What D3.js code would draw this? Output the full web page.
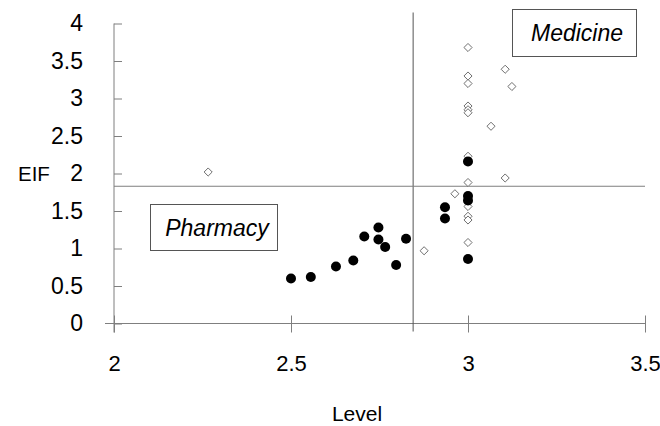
<!DOCTYPE html>
<html>
<head>
<meta charset="utf-8">
<script src="https://cdn.jsdelivr.net/npm/d3@7"></script>
<style>
  body { margin: 0; background: #fff; }
  svg { font-family: "Liberation Sans", Arial, sans-serif; }
</style>
</head>
<body>
<svg id="chart"></svg>
<script>
// data
var pharmacyLevel = [2.50, 2.556, 2.627, 2.676, 2.707, 2.747, 2.747, 2.766, 2.797, 2.825, 2.935, 2.935, 3.0, 3.0, 3.0, 3.0];
var pharmacyEIF   = [0.60, 0.62, 0.76, 0.84, 1.16, 1.28, 1.12, 1.02, 0.78, 1.13, 1.55, 1.40, 2.16, 1.70, 1.64, 0.86];

var medicineLevel = [3.0, 3.0, 3.0, 3.0, 3.0, 3.0, 3.0, 3.0, 3.0, 3.0, 3.0, 3.0, 3.105, 3.124, 3.065, 3.105, 2.963, 2.876, 2.266];
var medicineEIF   = [3.68, 3.30, 3.20, 2.90, 2.85, 2.81, 2.23, 1.88, 1.56, 1.43, 1.38, 1.08, 3.39, 3.16, 2.63, 1.94, 1.73, 0.97, 2.02];

var xTicks = [2, 2.5, 3, 3.5];
var yTicks = [0, 0.5, 1, 1.5, 2, 2.5, 3, 3.5, 4];

// dividing lines
var refLevel = 2.845;
var refEIF = 1.83;

var width = 660, height = 426;
var axisColor = "#7f7f7f";

var svg = d3.select("#chart")
  .attr("width", width)
  .attr("height", height);

var x = d3.scaleLinear().domain([2, 3.5]).range([114, 645]);
var y = d3.scaleLinear().domain([0, 4]).range([323.5, 23.5]);

// Y axis, ticks crossing the line
var yAxis = svg.append("g")
  .attr("transform", "translate(" + x(2) + ",0)")
  .call(d3.axisLeft(y).tickValues(yTicks).tickSize(8).tickSizeOuter(0).tickPadding(23)
    .tickFormat(d3.format("")));
yAxis.select(".domain").remove();
yAxis.selectAll(".tick line").attr("x2", 8).attr("stroke", axisColor);
yAxis.selectAll(".tick text")
  .style("font-size", "23px")
  .attr("fill", "#000");
yAxis.append("line")
  .attr("x1", 0).attr("x2", 0)
  .attr("y1", y(4)).attr("y2", y(0) + 9)
  .attr("stroke", axisColor);

// X axis
var xAxis = svg.append("g")
  .attr("transform", "translate(0," + y(0) + ")")
  .call(d3.axisBottom(x).tickValues(xTicks).tickSize(9).tickSizeOuter(0)
    .tickFormat(d3.format("")));
xAxis.select(".domain").remove();
xAxis.selectAll(".tick line").attr("y1", -8).attr("stroke", axisColor);
xAxis.selectAll(".tick text")
  .attr("y", 47)
  .attr("dy", 0)
  .style("font-size", "22px")
  .attr("fill", "#000");
xAxis.append("line")
  .attr("x1", x(2) - 9).attr("x2", x(3.5))
  .attr("y1", 0).attr("y2", 0)
  .attr("stroke", axisColor);

// reference lines
svg.append("line")
  .attr("x1", x(refLevel)).attr("x2", x(refLevel))
  .attr("y1", 12.5).attr("y2", y(0) + 8)
  .attr("stroke", "#555");
svg.append("line")
  .attr("x1", x(2)).attr("x2", x(3.5))
  .attr("y1", y(refEIF)).attr("y2", y(refEIF))
  .attr("stroke", axisColor);

// axis titles
svg.append("text")
  .attr("x", 18).attr("y", 181)
  .style("font-size", "20.5px")
  .text("EIF");
svg.append("text")
  .attr("x", 357).attr("y", 421)
  .attr("text-anchor", "middle")
  .style("font-size", "21px")
  .text("Level");

// open diamonds
var medicine = medicineLevel.map(function(d, i) { return {x: d, y: medicineEIF[i]}; });
svg.selectAll(".diamond")
  .data(medicine)
  .enter()
  .append("path")
  .attr("class", "diamond")
  .attr("d", d3.symbol().type(d3.symbolDiamond2).size(42))
  .attr("transform", function(d) { return "translate(" + x(d.x) + "," + y(d.y) + ")"; })
  .attr("fill", "#fff")
  .attr("stroke", "#6f6f6f")
  .attr("stroke-width", 1);

// filled circles
var pharmacy = pharmacyLevel.map(function(d, i) { return {x: d, y: pharmacyEIF[i]}; });
svg.selectAll(".dot")
  .data(pharmacy)
  .enter()
  .append("circle")
  .attr("class", "dot")
  .attr("cx", function(d) { return x(d.x); })
  .attr("cy", function(d) { return y(d.y); })
  .attr("r", 5)
  .attr("fill", "#000");

// label boxes
svg.append("rect")
  .attr("x", 150.5).attr("y", 204.5)
  .attr("width", 127).attr("height", 46)
  .attr("fill", "#fff").attr("stroke", "#555");
svg.append("text")
  .attr("x", 217).attr("y", 236)
  .attr("text-anchor", "middle")
  .style("font-size", "23px")
  .style("font-style", "italic")
  .text("Pharmacy");

svg.append("rect")
  .attr("x", 512.5).attr("y", 9.5)
  .attr("width", 124).attr("height", 47)
  .attr("fill", "#fff").attr("stroke", "#555");
svg.append("text")
  .attr("x", 577).attr("y", 41)
  .attr("text-anchor", "middle")
  .style("font-size", "23px")
  .style("font-style", "italic")
  .text("Medicine");
</script>
</body>
</html>
